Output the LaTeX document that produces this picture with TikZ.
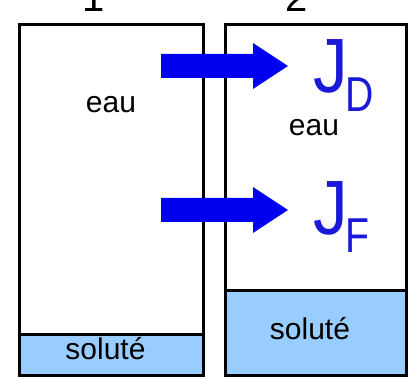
\documentclass[tikz,border=0pt]{standalone}
\usepackage{fontspec}
\setmainfont{Liberation Sans}
\definecolor{solutefill}{RGB}{153,204,255}
\definecolor{fluxblue}{RGB}{0,0,240}
\definecolor{fluxtext}{RGB}{25,25,215}
\newcommand{\fluxsym}[2]{%
  \scalebox{0.9}[1]{\fontsize{77}{77}\selectfont J}\kern-2pt%
  \raisebox{-#2}{\scalebox{0.8}[1]{\fontsize{49}{49}\selectfont #1}}}
\begin{document}
\begin{tikzpicture}[x=1pt,y=-1pt,
  wall/.style={draw=black,line width=3pt},
  layer/.style={fill=solutefill},
  flux/.style={fill=fluxblue},
  lbl/.style={anchor=base,inner sep=0pt,font=\fontsize{30}{30}\selectfont},
  num/.style={anchor=base,inner sep=0pt,font=\fontsize{40}{40}\selectfont},
  fluxlbl/.style={anchor=base west,inner sep=0pt,text=fluxtext}]
\useasboundingbox (0,0) rectangle (408,379);
% compartment 1
\fill[layer] (19,335) rectangle (203.3,375.5);
\draw[wall] (19,25) rectangle (203.3,375.5);
\draw[wall] (19,335) -- (203.3,335);
% compartment 2
\fill[layer] (225,291) rectangle (406.5,375.5);
\draw[wall] (225,25) rectangle (406.5,375.5);
\draw[wall] (225,291) -- (406.5,291);
% compartment numbers
\node[num] (n1) at (94,12) {1};
\node[num] (n2) at (297,12) {2};
% contents
\node[lbl] (eau1) at (111,113) {eau};
\node[lbl] (eau2) at (314,136) {eau};
\node[lbl] (sol1) at (105.5,360) {soluté};
\node[lbl] (sol2) at (310,340) {soluté};
% flux arrows
\fill[flux] (161,54) -- (253,54) -- (253,43) -- (288,66) -- (253,89) -- (253,78) -- (161,78) -- cycle;
\fill[flux] (161,198) -- (253,198) -- (253,187) -- (288,210) -- (253,233) -- (253,222) -- (161,222) -- cycle;
% flux labels
\node[fluxlbl] (jd) at (313,93) {\fluxsym{D}{19pt}};
\node[fluxlbl] (jf) at (313,235) {\fluxsym{F}{18pt}};
\end{tikzpicture}
\end{document}
